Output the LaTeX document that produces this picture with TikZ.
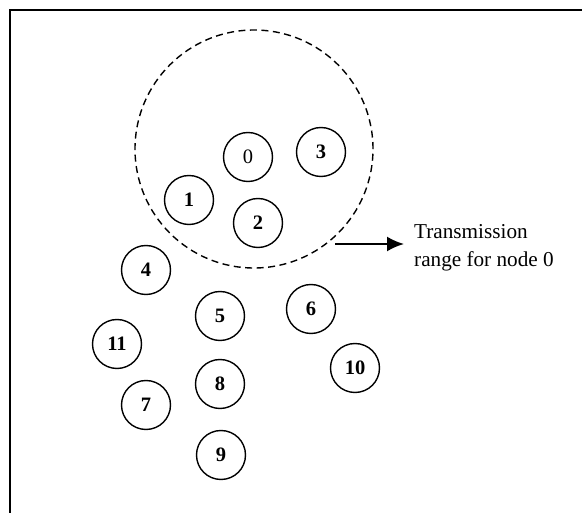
\documentclass[tikz,border=0pt]{standalone}
\usepackage{fontspec}
\setmainfont{Liberation Serif}
\usetikzlibrary{arrows.meta}
\begin{document}
\begin{tikzpicture}[x=1pt,y=-1pt,
  nd/.style={circle,draw,line width=1.4pt,minimum size=49pt,inner sep=0pt,font=\fontsize{20.5}{24}\selectfont\bfseries},
  nd0/.style={nd,font=\fontsize{20.5}{24}\selectfont},
  rangecirc/.style={dash pattern=on 7pt off 4.5pt,line width=1.4pt},
  framestyle/.style={line width=1.6pt},
  arr/.style={line width=2pt,-{Latex[length=17pt,width=15pt]}},
  lbl/.style={align=left,anchor=west,inner sep=0pt,font=\fontsize{21.2}{27.5}\selectfont}]
\useasboundingbox (0,0) rectangle (582,513);
\coordinate (fb) at (10,513);
\coordinate (fc) at (10,10);
\coordinate (fr) at (582,10);
\draw[framestyle] (fb) -- (fc) -- (fr);
\coordinate (rc) at (254,149);
\draw[rangecirc] (rc) circle[radius=119pt];
\node[nd0] (n0) at (248,157) {0};
\node[nd] (n3) at (321,152) {3};
\node[nd] (n1) at (189,200) {1};
\node[nd] (n2) at (258,223) {2};
\node[nd] (n4) at (146,270) {4};
\node[nd] (n5) at (220,316) {5};
\node[nd] (n6) at (311,309) {6};
\node[nd] (n11) at (117,344) {11};
\node[nd] (n10) at (355,368) {10};
\node[nd] (n8) at (220,384) {8};
\node[nd] (n7) at (146,405) {7};
\node[nd] (n9) at (221,455) {9};
\node[lbl] (txt) at (414,248) {Transmission\\range for node 0};
\coordinate (as) at (335,244);
\draw[arr,shorten >=10pt] (as) -- (as -| txt.west);
\end{tikzpicture}
\end{document}
